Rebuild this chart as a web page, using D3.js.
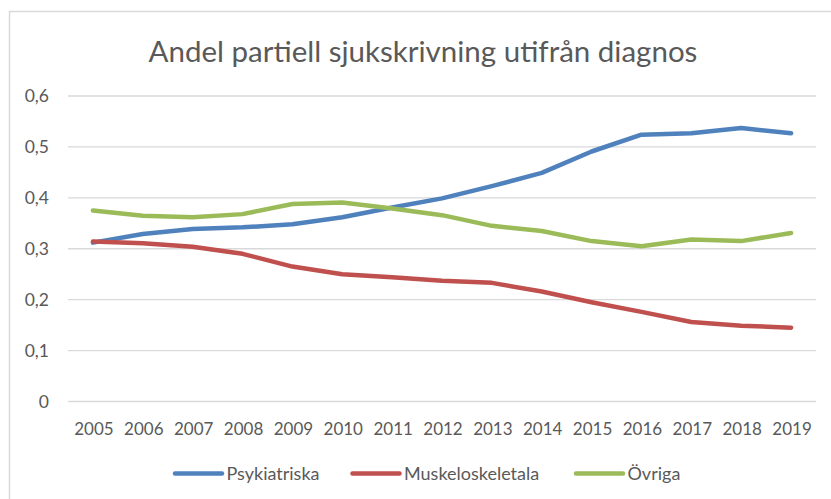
<!DOCTYPE html>
<html>
<head>
<meta charset="utf-8">
<script src="https://cdn.jsdelivr.net/npm/d3@7"></script>
<style>
  body { margin: 0; background: #fff; }
  svg text { font-family: Lato, "Open Sans", sans-serif; fill: #595959; }
</style>
</head>
<body>
<svg id="chart" width="831" height="499"></svg>
<script>
// Andel partiell sjukskrivning utifrån diagnos
const years = ['2005','2006','2007','2008','2009','2010','2011','2012','2013','2014','2015','2016','2017','2018','2019'];
const psykiatriska = [0.312,0.329,0.339,0.342,0.348,0.362,0.381,0.399,0.423,0.449,0.491,0.524,0.527,0.537,0.527];
const muskeloskeletala = [0.314,0.311,0.304,0.290,0.265,0.250,0.244,0.237,0.233,0.216,0.195,0.176,0.156,0.149,0.145];
const ovriga = [0.375,0.365,0.362,0.368,0.388,0.391,0.379,0.366,0.345,0.335,0.315,0.305,0.318,0.315,0.331];
const yTicks = [0, 0.1, 0.2, 0.3, 0.4, 0.5, 0.6];

const series = [
  { name: 'Psykiatriska', values: psykiatriska, color: '#4f81bd' },
  { name: 'Muskeloskeletala', values: muskeloskeletala, color: '#c0504d' },
  { name: 'Övriga', values: ovriga, color: '#9bbb59' }
];

const svg = d3.select('#chart');

// chart frame (runs off the right and bottom edges)
svg.append('rect')
  .attr('x', 9.5).attr('y', 11.5)
  .attr('width', 840).attr('height', 520)
  .attr('fill', 'none')
  .attr('stroke', '#d9d9d9')
  .attr('stroke-width', 1.5);

const plot = { left: 68, right: 816, top: 96, bottom: 401.5 };

const x = d3.scaleBand().domain(years).range([plot.left, plot.right]);
const y = d3.scaleLinear().domain([0, 0.6]).range([plot.bottom, plot.top]);
const fmt = d => d === 0 ? '0' : d3.format('.1f')(d).replace('.', ',');

// title
svg.append('text')
  .attr('x', 423).attr('y', 61.5)
  .attr('text-anchor', 'middle')
  .attr('font-size', 29.5)
  .text('Andel partiell sjukskrivning utifrån diagnos');

// gridlines
svg.append('g')
  .selectAll('line')
  .data(yTicks)
  .join('line')
  .attr('x1', plot.left).attr('x2', plot.right)
  .attr('y1', d => y(d)).attr('y2', d => y(d))
  .attr('stroke', '#d9d9d9')
  .attr('stroke-width', 1.3);

// y labels
svg.append('g')
  .selectAll('text')
  .data(yTicks)
  .join('text')
  .attr('x', 49)
  .attr('y', d => y(d) + 6)
  .attr('text-anchor', 'end')
  .attr('font-size', 17.5)
  .text(fmt);

// x labels
svg.append('g')
  .selectAll('text')
  .data(years)
  .join('text')
  .attr('x', d => x(d) + x.bandwidth() / 2 + 1)
  .attr('y', 434.5)
  .attr('text-anchor', 'middle')
  .attr('font-size', 17)
  .text(d => d);

// lines
const line = d3.line()
  .x((d, i) => x(years[i]) + x.bandwidth() / 2)
  .y(d => y(d));

svg.append('g')
  .selectAll('path')
  .data(series)
  .join('path')
  .attr('d', s => line(s.values))
  .attr('fill', 'none')
  .attr('stroke', s => s.color)
  .attr('stroke-width', 4.5)
  .attr('stroke-linecap', 'round')
  .attr('stroke-linejoin', 'round');

// legend
const legendX = [175, 352.5, 576];
const lg = svg.append('g')
  .selectAll('g')
  .data(series)
  .join('g')
  .attr('transform', (s, i) => `translate(${legendX[i]},473.5)`);

lg.append('line')
  .attr('x1', 0).attr('x2', 47)
  .attr('stroke', s => s.color)
  .attr('stroke-width', 4.5)
  .attr('stroke-linecap', 'round');

lg.append('text')
  .attr('x', 51.5)
  .attr('y', 6.5)
  .attr('font-size', 18)
  .text(s => s.name);
</script>
</body>
</html>
